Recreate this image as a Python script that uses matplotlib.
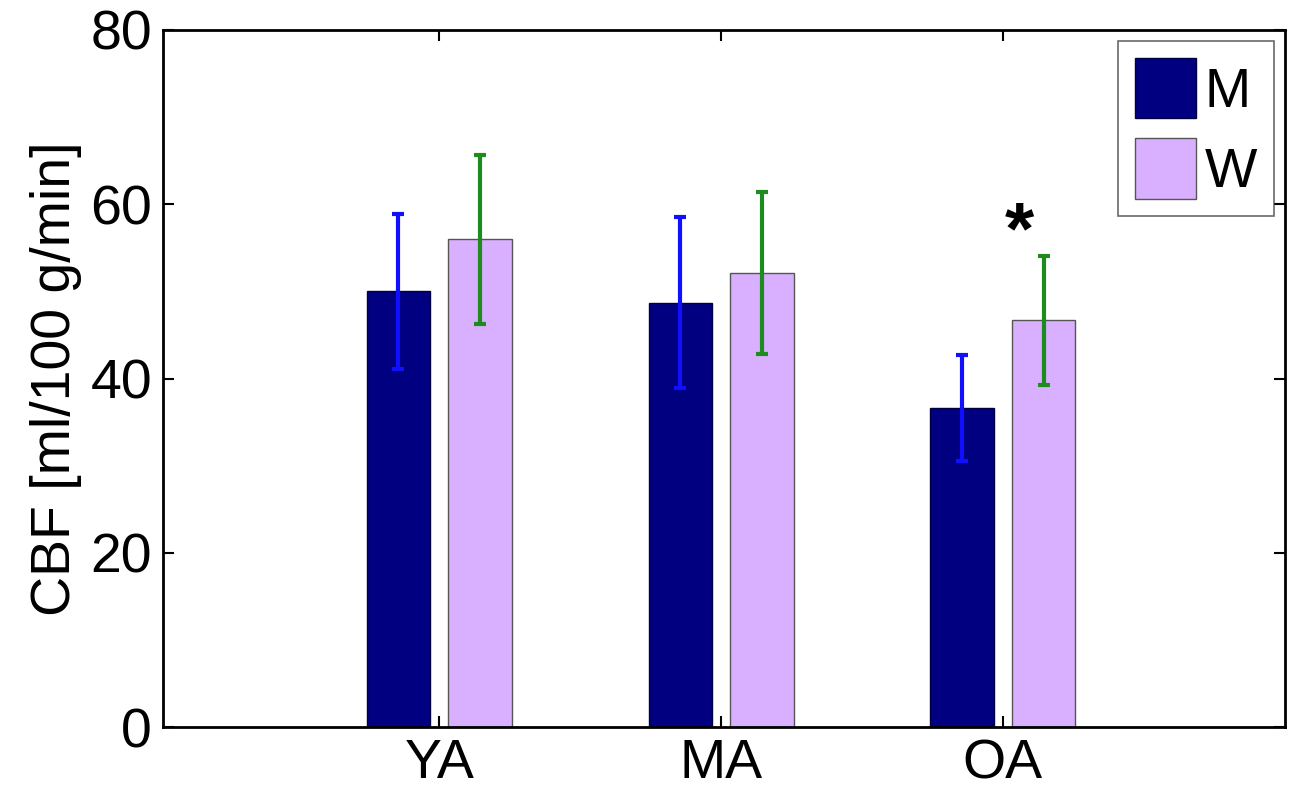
import numpy as np
import matplotlib.pyplot as plt

plt.rcParams['font.family'] = ['Liberation Sans', 'DejaVu Sans']

groups = ['YA', 'MA', 'OA']
men = [50.0, 48.7, 36.6]
men_err = [8.9, 9.8, 6.1]
women = [56.0, 52.1, 46.7]
women_err = [9.7, 9.3, 7.4]

x = np.arange(1, len(groups) + 1)
w = 0.225
off = 0.145

fig = plt.figure(figsize=(12.95, 8.0), dpi=100)
ax = fig.add_axes([0.126, 0.091, 0.866, 0.8715])

ax.bar(x - off, men, w, color='#000080', edgecolor='#000040', linewidth=1, label='M')
ax.bar(x + off, women, w, color='#D8B0FF', edgecolor='#555555', linewidth=1, label='W')
ax.errorbar(x - off, men, yerr=men_err, fmt='none', ecolor='#1010FF', elinewidth=3, capsize=4, capthick=3)
ax.errorbar(x + off, women, yerr=women_err, fmt='none', ecolor='#1E8B1E', elinewidth=3, capsize=4, capthick=3)

# significance marker above OA women
ax.text(x[2] + off - 0.085, women[2] + women_err[2] - 1.5, '*', fontsize=54, fontweight='bold',
        ha='center', va='bottom')

ax.set_xlim(0.02, 4.0)
ax.set_ylim(0, 80)
ax.set_xticks(x)
ax.set_xticklabels(groups)
ax.set_yticks([0, 20, 40, 60, 80])
ax.set_ylabel('CBF [ml/100 g/min]', fontsize=40, labelpad=6)
ax.tick_params(direction='in', length=8, width=1.5, labelsize=40, top=True, right=True, pad=8)
for s in ax.spines.values():
    s.set_linewidth(2)

leg = ax.legend(loc='upper right', fontsize=40, fancybox=False, edgecolor='#444444',
                handlelength=1.1, handleheight=1.3, handletextpad=0.15, borderpad=0.3,
                labelspacing=0.35, borderaxespad=0.2)
leg.get_frame().set_linewidth(1.2)

fig.savefig('out.png', dpi=100)
